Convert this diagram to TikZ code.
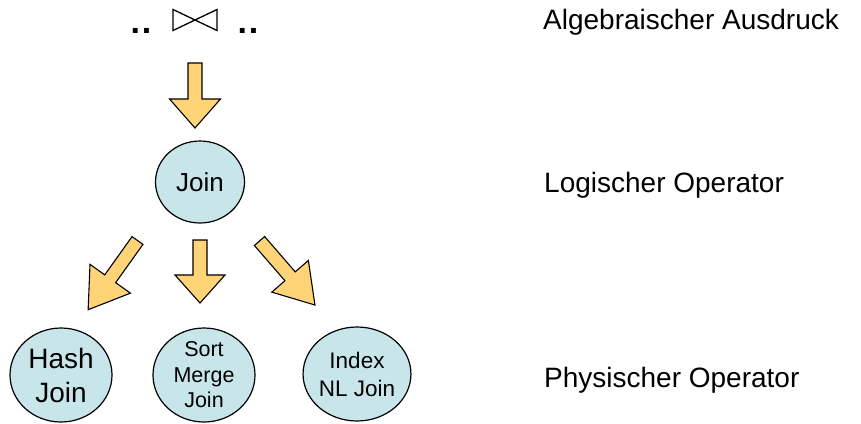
\documentclass[tikz,border=0pt]{standalone}
\usepackage{fontspec}
\setmainfont{Liberation Sans}
\usetikzlibrary{shapes.geometric}

\definecolor{opfill}{RGB}{200,230,234}
\definecolor{arrowfill}{RGB}{255,212,121}

% block arrow: tail x, tail y, angle, length, head length, half shaft, half head
\newcommand\blockarrow[7]{%
  \draw[blockarrowstyle, shift={(#1,#2)}, rotate=#3]
    (0,-#6) -- ({#4-#5},-#6) -- ({#4-#5},-#7) -- (#4,0)
    -- ({#4-#5},#7) -- ({#4-#5},#6) -- (0,#6) -- cycle;}

\tikzset{
  opnode/.style={ellipse, draw=black, line width=1.2pt, fill=opfill,
    inner sep=0pt, align=center},
  blockarrowstyle/.style={draw=black, line width=1.1pt, fill=arrowfill,
    line join=miter},
  levellabel/.style={anchor=base west, inner sep=0pt,
    font=\fontsize{28}{34}\selectfont},
  dotslabel/.style={anchor=base, inner sep=0pt,
    font=\fontsize{34}{34}\selectfont\bfseries},
}

\begin{document}
\begin{tikzpicture}[x=1pt, y=-1pt]
  \useasboundingbox (0,0) rectangle (861,423);

  % algebraic expression: .. bowtie ..
  \node[dotslabel] (dl) at (141,33) {.\kern2pt.};
  \node[dotslabel] (dr) at (248,33) {.\kern2pt.};
  \draw[line width=1.3pt, line join=miter] (173,9.5) -- (217,30.5) -- (217,9.5) -- (173,30.5) -- cycle;

  % logical operator
  \node[opnode, minimum width=89pt, minimum height=82pt,
        font=\fontsize{26}{31}\selectfont] (join) at (200,182) {Join};

  % physical operators
  \node[opnode, minimum width=102pt, minimum height=94pt,
        font=\fontsize{28}{34}\selectfont] (hash) at (61,375) {Hash\\Join};
  \node[opnode, minimum width=102pt, minimum height=94pt,
        font=\fontsize{21.5}{25.5}\selectfont] (smj) at (204,375) {Sort\\Merge\\Join};
  \node[opnode, minimum width=101pt, minimum height=94pt,
        font=\fontsize{22.5}{28}\selectfont] (inl) at (357,374) {Index\\NL Join};

  % block arrows between the levels
  \blockarrow{195}{63}{-90}{65}{29}{7}{25.5}
  \blockarrow{200}{240}{-90}{63}{28}{7}{25}
  \blockarrow{137.5}{240.5}{-125.5}{85}{38}{6.7}{24.8}
  \blockarrow{259.5}{241}{-49.1}{84.7}{38}{6.8}{24.2}

  % level labels
  \node[levellabel] (lalg) at (543,29) {Algebraischer Ausdruck};
  \node[levellabel] (llog) at (544,192) {Logischer Operator};
  \node[levellabel] (lphy) at (544,387) {Physischer Operator};
\end{tikzpicture}
\end{document}
